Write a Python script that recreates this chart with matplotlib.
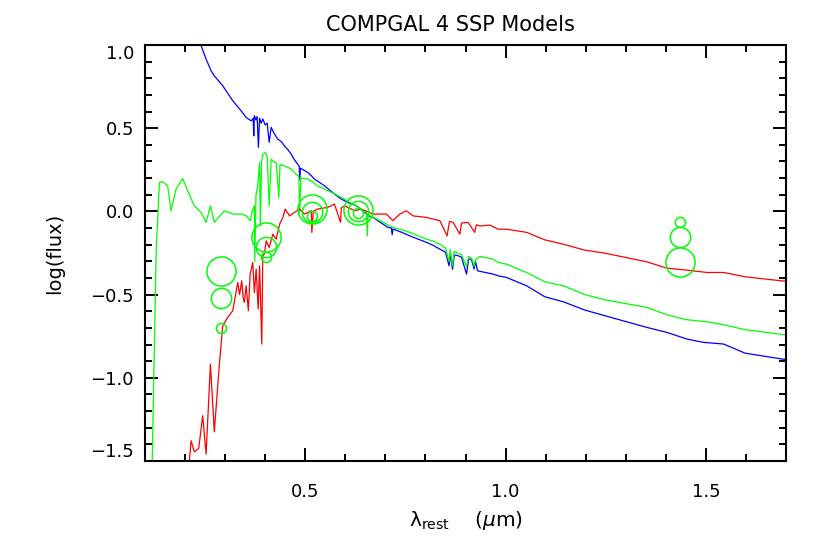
import matplotlib
matplotlib.use("Agg")
import matplotlib.pyplot as plt
from matplotlib.ticker import MultipleLocator

plt.rcParams['font.family'] = ['DejaVu Sans']
plt.rcParams['mathtext.fontset'] = 'dejavusans'

# ---- data ----
title = "COMPGAL 4 SSP Models"

blue_x = [0.235, 0.2525, 0.265, 0.273, 0.294, 0.319, 0.336, 0.3525, 0.365, 0.370, 0.3715, 0.373, 0.377,
          0.380, 0.383, 0.386, 0.390, 0.394, 0.400, 0.405, 0.410, 0.415, 0.422, 0.431, 0.440, 0.448,
          0.457, 0.465, 0.473, 0.481, 0.485, 0.486, 0.488, 0.495, 0.506, 0.515, 0.523, 0.535, 0.548,
          0.560, 0.573, 0.586, 0.598, 0.610, 0.6275, 0.645, 0.661, 0.669, 0.690, 0.7065, 0.715, 0.717,
          0.719, 0.740, 0.761, 0.780, 0.8025, 0.820, 0.836, 0.850, 0.859, 0.862, 0.8675, 0.872, 0.880,
          0.890, 0.9025, 0.908, 0.915, 0.9215, 0.925, 0.930, 0.969, 0.9815, 1.0025, 1.0525, 1.098,
          1.144, 1.198, 1.248, 1.3525, 1.4025, 1.4525, 1.494, 1.544, 1.598, 1.7025]
blue_y = [1.03, 0.915, 0.845, 0.815, 0.755, 0.665, 0.616, 0.565, 0.544, 0.560, 0.454, 0.575, 0.550,
          0.570, 0.385, 0.560, 0.530, 0.555, 0.520, 0.530, 0.415, 0.505, 0.470, 0.435, 0.420, 0.394,
          0.370, 0.344, 0.310, 0.284, 0.270, 0.190, 0.260, 0.250, 0.234, 0.215, 0.194, 0.175, 0.154,
          0.130, 0.104, 0.080, 0.064, 0.050, 0.034, 0.000, -0.030, -0.036, -0.070, -0.096, -0.100, -0.140,
          -0.106, -0.125, -0.147, -0.165, -0.186, -0.205, -0.227, -0.245, -0.327, -0.255, -0.347, -0.262, -0.265,
          -0.275, -0.377, -0.285, -0.290, -0.347, -0.300, -0.357, -0.377, -0.387, -0.397, -0.447, -0.513,
          -0.543, -0.593, -0.627, -0.697, -0.727, -0.767, -0.787, -0.797, -0.852, -0.892]

green_x = [0.115, 0.118, 0.128, 0.136, 0.144, 0.1565, 0.165, 0.1775, 0.194, 0.2065, 0.223, 0.240,
           0.2525, 0.2635, 0.273, 0.298, 0.319, 0.340, 0.3525, 0.363, 0.3665, 0.373, 0.374, 0.377,
           0.3815, 0.386, 0.388, 0.391, 0.394, 0.400, 0.405, 0.410, 0.415, 0.420, 0.4275, 0.434, 0.437,
           0.448, 0.465, 0.481, 0.484, 0.486, 0.489, 0.506, 0.520, 0.5315, 0.544, 0.556, 0.570, 0.5815,
           0.598, 0.611, 0.6275, 0.645, 0.653, 0.655, 0.657, 0.661, 0.690, 0.719, 0.740, 0.761, 0.780,
           0.8025, 0.820, 0.836, 0.850, 0.859, 0.862, 0.8675, 0.872, 0.880, 0.890, 0.9025, 0.908, 0.915,
           0.9215, 0.925, 0.936, 0.969, 0.9815, 1.0025, 1.0275, 1.0525, 1.098, 1.144, 1.198, 1.248,
           1.3525, 1.4025, 1.4525, 1.5025, 1.544, 1.598, 1.7025]
green_y = [-1.60, -1.50, -0.23, 0.174, 0.178, 0.154, 0.004, 0.134, 0.198, 0.124, 0.034, -0.006,
           -0.066, 0.034, -0.066, 0.004, -0.016, -0.016, -0.026, -0.056, -0.006, 0.034, -0.300, 0.100,
           0.154, 0.294, -0.086, 0.300, 0.344, 0.354, 0.330, 0.034, 0.314, 0.300, 0.294, 0.084, 0.280,
           0.274, 0.254, 0.214, 0.210, -0.006, 0.200, 0.195, 0.175, 0.150, 0.140, 0.124, 0.110, 0.094,
           0.074, 0.054, 0.034, 0.005, -0.010, -0.147, -0.020, -0.026, -0.060, -0.096, -0.110, -0.126, -0.145,
           -0.166, -0.180, -0.197, -0.220, -0.300, -0.230, -0.327, -0.240, -0.250, -0.260, -0.330, -0.270, -0.280,
           -0.330, -0.290, -0.270, -0.287, -0.307, -0.317, -0.343, -0.367, -0.423, -0.447, -0.500, -0.531,
           -0.577, -0.621, -0.651, -0.663, -0.681, -0.711, -0.743]

red_x = [0.205, 0.211, 0.215, 0.223, 0.234, 0.244, 0.2525, 0.2633, 0.273, 0.286, 0.294, 0.3065,
         0.319, 0.3315, 0.336, 0.3415, 0.345, 0.348, 0.3525, 0.358, 0.3625, 0.369, 0.373, 0.3775,
         0.3825, 0.386, 0.3915, 0.394, 0.398, 0.4025, 0.410, 0.419, 0.4275, 0.436, 0.444, 0.450,
         0.461, 0.473, 0.486, 0.498, 0.515, 0.5165, 0.520, 0.5315, 0.556, 0.573, 0.588, 0.590, 0.598,
         0.623, 0.640, 0.669, 0.690, 0.7025, 0.719, 0.736, 0.7525, 0.769, 0.8025, 0.836, 0.854, 0.860,
         0.869, 0.886, 0.890, 0.9065, 0.923, 0.927, 0.936, 0.940, 0.961, 0.9815, 1.0025, 1.0525,
         1.098, 1.144, 1.198, 1.248, 1.3525, 1.4025, 1.4525, 1.5025, 1.544, 1.598, 1.7025]
red_y = [-1.60, -1.493, -1.378, -1.445, -1.425, -1.228, -1.459, -0.918, -1.325, -0.908, -0.688, -0.637,
         -0.597, -0.427, -0.500, -0.417, -0.520, -0.547, -0.447, -0.597, -0.377, -0.307, -0.487, -0.347,
         -0.587, -0.327, -0.797, -0.267, -0.257, -0.177, -0.217, -0.137, -0.167, -0.077, -0.037, 0.014,
         -0.027, -0.006, 0.014, -0.016, 0.004, -0.126, 0.000, 0.014, 0.024, 0.044, -0.066, 0.020, 0.034,
         0.004, 0.014, -0.016, -0.016, -0.016, -0.056, -0.016, 0.004, -0.027, -0.036, -0.056, -0.147, -0.060,
         -0.066, -0.137, -0.070, -0.066, -0.126, -0.080, -0.087, -0.087, -0.082, -0.107, -0.107, -0.126,
         -0.171, -0.197, -0.233, -0.251, -0.303, -0.341, -0.353, -0.367, -0.367, -0.393, -0.421]

# photometry points: three circle sizes per band
phot_x = [0.29, 0.403, 0.518, 0.632, 1.436]
phot_small = [-0.70, -0.276, -0.030, -0.010, -0.064]
phot_medium = [-0.52, -0.216, -0.006, 0.000, -0.153]
phot_large = [-0.36, -0.153, 0.014, 0.010, -0.306]

# ---- figure ----
fig = plt.figure(figsize=(8.30, 5.54), dpi=100)
ax = fig.add_axes([145/830, 1 - 461/554, (786 - 145)/830, (461 - 45)/554])

ax.plot(blue_x, blue_y, color='#0000ff', lw=0.9)
ax.plot(green_x, green_y, color='#00ff00', lw=0.9)
ax.plot(red_x, red_y, color='#ff0000', lw=0.9)

for vals, ms in [(phot_small, 7.3), (phot_medium, 14.6), (phot_large, 21.0)]:
    ax.plot(phot_x, vals, ls='none', marker='o', ms=ms, mfc='none',
            mec='#00ff00', mew=1.1)

ax.set_xlim(0.1, 1.7)
ax.set_ylim(-1.5, 1.0)

ax.set_xticks([0.5, 1.0, 1.5], labels=['0.5', '1.0', '1.5'])
yt = [-1.5, -1.0, -0.5, 0.0, 0.5, 1.0]
ax.set_yticks(yt, labels=['\u22121.5', '\u22121.0', '\u22120.5', '0.0', '0.5', '1.0'])
ax.xaxis.set_minor_locator(MultipleLocator(0.1))
ax.yaxis.set_minor_locator(MultipleLocator(0.1))

ax.tick_params(which='both', direction='in', top=True, right=True, width=1.4, color='black')
ax.tick_params(which='major', length=9.5)
ax.tick_params(which='minor', length=4.8)
ax.tick_params(axis='x', which='major', pad=16, labelsize=13)
ax.tick_params(axis='y', which='major', pad=8, labelsize=13)
for s in ax.spines.values():
    s.set_linewidth(1.5)

ylabs = ax.get_yticklabels()
ylabs[-1].set_va('top')
ylabs[0].set_va('bottom')

ax.set_xlabel('\u03bb$_{\\mathrm{rest}}$    ($\\mu$m)', fontsize=14.5)
ax.xaxis.label.set_va('center')
ax.xaxis.set_label_coords(0.5, (461 - 521) / 416)
ax.set_ylabel('log(flux)', fontsize=14)
ax.yaxis.label.set_va('center')
ax.yaxis.set_label_coords((55 - 145) / 641, 0.5)

ax.set_title(title, fontsize=15, pad=10, x=(450 - 145) / 641)

fig.savefig('out.png', dpi=100)
